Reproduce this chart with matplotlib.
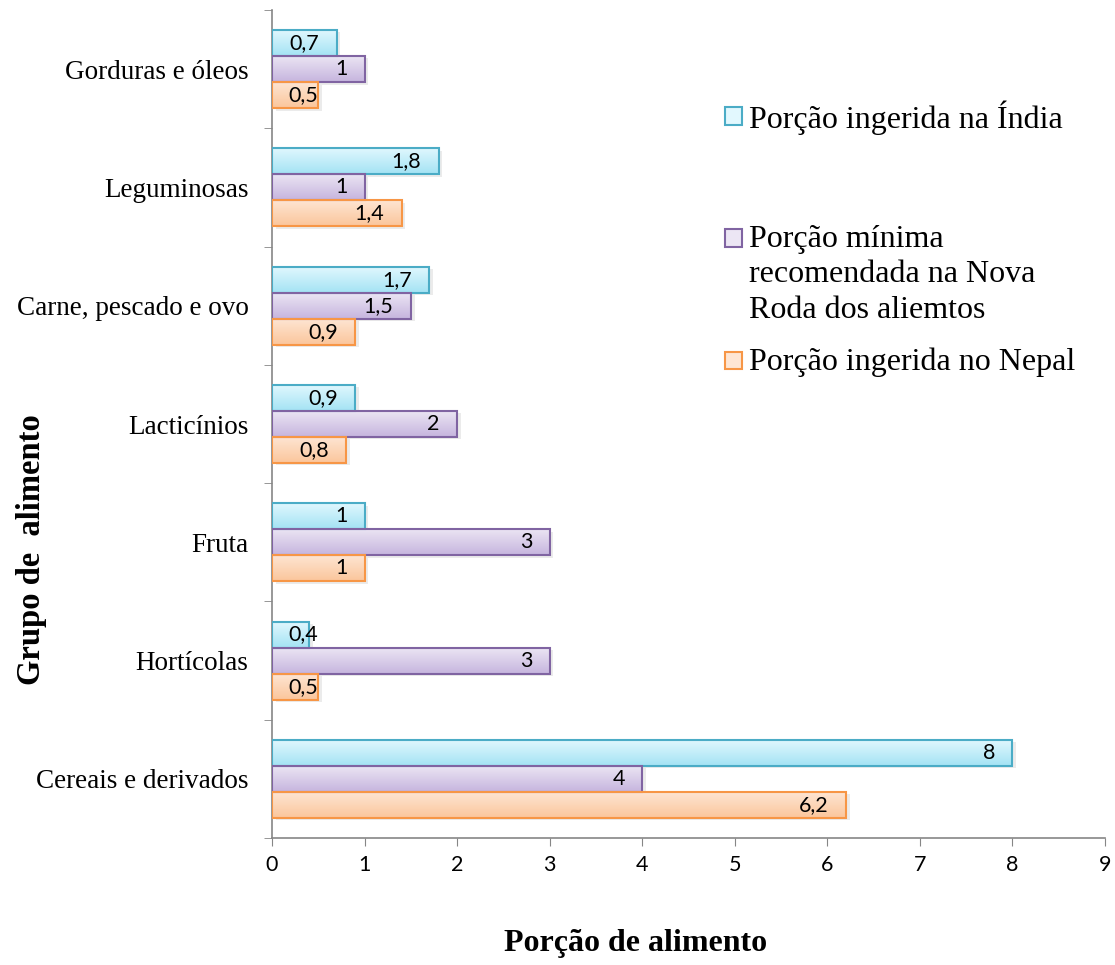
import matplotlib
matplotlib.use("Agg")
import matplotlib.pyplot as plt
import numpy as np
from matplotlib.patches import Rectangle
from matplotlib.colors import LinearSegmentedColormap

categories = ["Cereais e derivados", "Hortícolas", "Fruta", "Lacticínios",
              "Carne, pescado e ovo", "Leguminosas", "Gorduras e óleos"]
india = [8, 0.4, 1, 0.9, 1.7, 1.8, 0.7]
recomendada = [4, 3, 3, 2, 1.5, 1, 1]
nepal = [6.2, 0.5, 1, 0.8, 0.9, 1.4, 0.5]
series_names = [["Porção ingerida na Índia"],
                ["Porção mínima", "recomendada na Nova", "Roda dos aliemtos"],
                ["Porção ingerida no Nepal"]]
x_ticks = [0, 1, 2, 3, 4, 5, 6, 7, 8, 9]

styles = [
    dict(top="#e2f8fe", bottom="#a4e3f4", edge="#4bacc6"),
    dict(top="#ece6f4", bottom="#c6b5de", edge="#8064a2"),
    dict(top="#fee6d4", bottom="#fbc69c", edge="#f79646"),
]

fig = plt.figure(figsize=(11.15, 9.65), dpi=100)
ax = fig.add_axes([272/1115, 1-838/965, (1105-272)/1115, (838-10)/965])

serif = "Liberation Serif"
sans = "Lato"

y = np.arange(len(categories))
h = 0.22
offsets = [h, 0, -h]
data = [india, recomendada, nepal]

def grad_fill(patch, st):
    cmap = LinearSegmentedColormap.from_list("g", [st["bottom"], st["top"]])
    x0, y0 = patch.get_x(), patch.get_y()
    w, hh = patch.get_width(), patch.get_height()
    g = np.linspace(0, 1, 64).reshape(-1, 1)
    im = ax.imshow(g, cmap=cmap, aspect="auto", origin="lower",
                   extent=[x0, x0 + w, y0, y0 + hh], zorder=2,
                   interpolation="bilinear")
    im.set_clip_path(patch)

for vals, off, st in zip(data, offsets, styles):
    # shadow
    ax.barh(y + off - 0.02, vals, height=h, left=0.04, color="#000000",
            alpha=0.08, zorder=1, linewidth=0)
    bars = ax.barh(y + off, vals, height=h, facecolor="none",
                   edgecolor=st["edge"], linewidth=1.5, zorder=3)
    for b, v in zip(bars, vals):
        grad_fill(b, st)
        lbl = f"{v:g}".replace(".", ",")
        yc = b.get_y() + b.get_height() / 2
        if v < 0.67:
            ax.annotate(lbl, xy=(0, yc), xytext=(12, 0), textcoords="offset points",
                        ha="left", va="center", fontsize=15.5, family=sans, zorder=4)
        else:
            ax.annotate(lbl, xy=(v, yc), xytext=(-12.5, 0), textcoords="offset points",
                        ha="right", va="center", fontsize=15.5, family=sans, zorder=4)

ax.set_xlim(0, 9)
ax.set_ylim(-0.5, len(categories) - 0.5)
ax.set_xticks(x_ticks)
ax.set_xticklabels([str(t) for t in x_ticks], fontsize=15.5, family=sans)
ax.set_yticks(y)
ax.set_yticklabels(categories, fontsize=19.5, family=serif)
ax.set_yticks(np.arange(-0.5, len(categories)), minor=True)
ax.tick_params(axis="y", which="major", length=0, pad=17)
ax.tick_params(axis="y", which="minor", length=6, color="#868686", direction="out")
ax.tick_params(axis="x", which="major", length=6, color="#868686", direction="out", pad=6)
for s in ["top", "right"]:
    ax.spines[s].set_visible(False)
for s in ["left", "bottom"]:
    ax.spines[s].set_color("#868686")
    ax.spines[s].set_linewidth(1.2)

fig.text(636/1115, 1-944/965, "Porção de alimento", ha="center", va="center",
         fontsize=23, fontweight="bold", family=serif)
fig.text(32/1115, 1-550/965, "Grupo de  alimento", ha="center", va="center",
         rotation=90, fontsize=23.5, fontweight="bold", family=serif)

# legend
leg_y = [116, 238, 360]
line_gap = 35
for lines, st, ly in zip(series_names, styles, leg_y):
    sq = Rectangle((725/1115, 1-(ly+8.5)/965), 17/1115, 17/965, transform=fig.transFigure,
                   facecolor=st["top"], edgecolor=st["edge"], linewidth=1.5)
    fig.patches.append(sq)
    for k, line in enumerate(lines):
        fig.text(749/1115, 1-(ly + 2 + k*line_gap)/965, line, ha="left", va="center",
                 fontsize=23, family=serif)

fig.savefig("out.png", dpi=100)
